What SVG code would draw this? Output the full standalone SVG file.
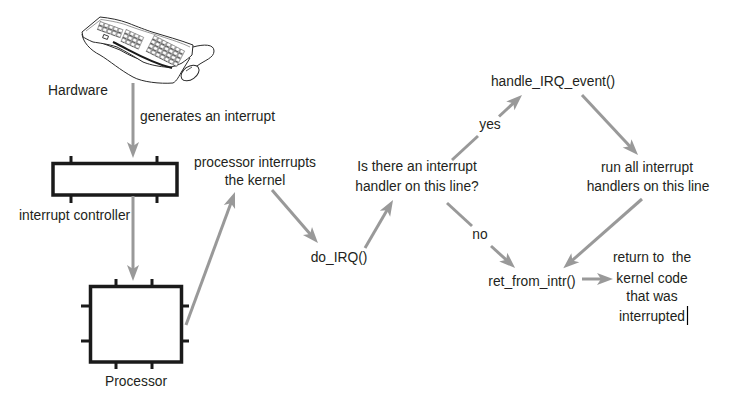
<svg xmlns="http://www.w3.org/2000/svg" width="742" height="402" viewBox="0 0 742 402">
  <style>
    text { font-family: "Liberation Sans", Arial, Helvetica, sans-serif; font-size: 13.8px; fill: #231f20; }
    .c { text-anchor: middle; }
    .conn { stroke: #999999; stroke-width: 3; fill: none; marker-end: url(#arr); }
    .seg { stroke: #999999; stroke-width: 3; fill: none; }
    .box { fill: #ffffff; stroke: #1a1a1a; stroke-width: 3.5; }
    .pin { stroke: #1a1a1a; stroke-width: 3; }
    .kb { stroke: #2a2a2a; stroke-width: 1; fill: #ffffff; stroke-linejoin: round; }
  </style>
  <defs>
    <marker id="arr" markerUnits="userSpaceOnUse" markerWidth="16" markerHeight="12" refX="6" refY="6" orient="auto" overflow="visible">
      <path d="M0,0 L16,6 L0,12 L4,6 Z" fill="#999999"/>
    </marker>
    <pattern id="keys" patternUnits="userSpaceOnUse" width="5" height="4.6">
      <rect x="0.5" y="0.5" width="3.8" height="3.4" fill="#ffffff" stroke="#444444" stroke-width="0.5"/>
      <line x1="0.5" y1="4" x2="4.3" y2="4" stroke="#222222" stroke-width="0.7"/>
    </pattern>
  </defs>
  <rect width="742" height="402" fill="#ffffff"/>

  <g id="hardware">
    <!-- wrist rest / base -->
    <path class="kb" d="M82,34 C83,42 90,50 100,55 C110,61 120,70 133,77 C142,82 160,84 173,83 C177,81 179,76 182,71 L190,58 L186,56 L176,64 C160,66 140,62 120,50 C105,44 92,40 82,34 Z"/>
    <!-- top surface -->
    <path class="kb" d="M82,32 L100,17 C110,18 120,20 128,23 C138,27 146,30 152,32 C165,36 180,40 193,45 L192,55 C189,58 186,60 182,63 C176,66 170,68 165,67 C155,66 148,64 143,62 C135,57 125,51 117,47 C108,44 99,43 93,42 C88,40 85,38 83,37 Z"/>
    <path d="M86,31 L101,19.5 C112,21 122,23 129,26 C140,30 150,33 160,36 C172,40 182,43 190,47" fill="none" stroke="#555555" stroke-width="0.6"/>
    <!-- front edge darker -->
    <path d="M113,42 C130,50 148,62 172,68" fill="none" stroke="#1a1a1a" stroke-width="2"/>
    <!-- key clusters -->
    <rect x="0" y="0" width="25" height="9.2" fill="url(#keys)" transform="translate(100,21) rotate(20)"/>
    <rect x="0" y="0" width="20" height="13.8" fill="url(#keys)" transform="translate(126,29) rotate(24)"/>
    <rect x="0" y="0" width="35" height="18.4" fill="url(#keys)" transform="translate(154,35) rotate(27)"/>
    <rect x="103" y="35" width="5" height="3.5" fill="#ffffff" stroke="#222222" stroke-width="0.8" transform="rotate(20 105 37)"/>
    <!-- mouse -->
    <path d="M197,66 C205,60 214,58 214,51 C214,44 204,44 193,47" fill="none" stroke="#2a2a2a" stroke-width="1"/>
    <ellipse cx="190" cy="73" rx="10" ry="6.5" transform="rotate(-35 190 73)" class="kb"/>
    <path d="M186,71 L192,67" stroke="#2a2a2a" stroke-width="0.8"/>
    <text x="48" y="95">Hardware</text>
  </g>

  <g id="interrupt-controller">
    <line class="pin" x1="71" y1="156" x2="71" y2="203"/>
    <line class="pin" x1="157" y1="156" x2="157" y2="203"/>
    <rect class="box" x="53" y="163.5" width="124" height="31.5"/>
    <text x="19" y="220">interrupt controller</text>
  </g>

  <g id="processor">
    <line class="pin" x1="116" y1="279" x2="116" y2="369"/>
    <line class="pin" x1="152" y1="279" x2="152" y2="369"/>
    <line class="pin" x1="81" y1="306" x2="189" y2="306"/>
    <line class="pin" x1="81" y1="341" x2="189" y2="341"/>
    <rect class="box" x="90.5" y="286.5" width="91" height="75.5"/>
    <text class="c" x="136" y="386">Processor</text>
  </g>

  <g id="processor-interrupts">
    <text class="c" x="255" y="167">processor interrupts</text>
    <text class="c" x="255" y="185">the kernel</text>
  </g>

  <g id="do-irq">
    <text class="c" x="339" y="262">do_IRQ()</text>
  </g>

  <g id="decision">
    <text class="c" x="417" y="171">Is there an interrupt</text>
    <text class="c" x="417" y="191">handler on this line?</text>
  </g>

  <g id="handle-irq-event">
    <text class="c" x="553" y="86">handle_IRQ_event()</text>
  </g>

  <g id="run-handlers">
    <text class="c" x="647" y="172">run all interrupt</text>
    <text class="c" x="648" y="191">handlers on this line</text>
  </g>

  <g id="ret-from-intr">
    <text class="c" x="532" y="286">ret_from_intr()</text>
  </g>

  <g id="return">
    <text class="c" x="652" y="262" xml:space="preserve">return to  the</text>
    <text class="c" x="652" y="283">kernel code</text>
    <text class="c" x="652" y="301">that was</text>
    <text class="c" x="652" y="321">interrupted</text>
    <line x1="687.5" y1="306" x2="687.5" y2="325" stroke="#000000" stroke-width="1.2"/>
  </g>

  <g id="connectors">
    <line class="conn" x1="133" y1="83" x2="133" y2="148"/>
    <text x="140" y="121">generates an interrupt</text>
    <line class="conn" x1="133" y1="196" x2="133" y2="271"/>
    <line class="conn" x1="186" y1="325" x2="231.5" y2="201.4"/>
    <line class="conn" x1="272" y1="190" x2="311.4" y2="235.5"/>
    <line class="conn" x1="365" y1="248" x2="388" y2="208.6"/>
    <line class="seg" x1="452" y1="160" x2="478" y2="136"/>
    <line class="conn" x1="499" y1="116.5" x2="514.7" y2="101.8"/>
    <text class="c" x="490" y="129">yes</text>
    <line class="conn" x1="582" y1="95" x2="631.2" y2="147.7"/>
    <line class="conn" x1="642" y1="199" x2="570.8" y2="261.7"/>
    <line class="seg" x1="447" y1="203" x2="472" y2="226"/>
    <line class="conn" x1="491" y1="246" x2="507.7" y2="261.2"/>
    <text class="c" x="480" y="239">no</text>
    <line class="conn" x1="582" y1="279" x2="603" y2="279"/>
  </g>
</svg>
